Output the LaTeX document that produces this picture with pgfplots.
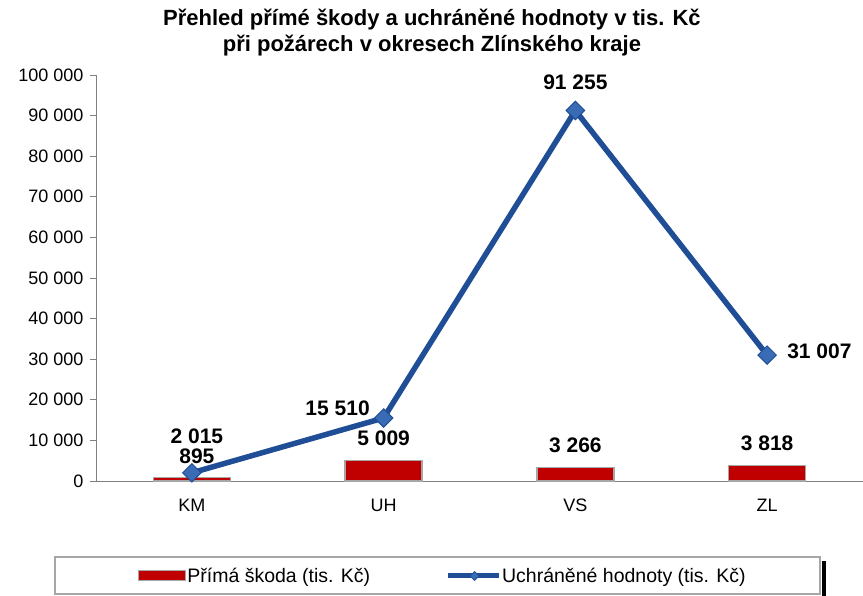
\documentclass[border=0pt]{standalone}
\usepackage{fontspec}
\setmainfont{Liberation Sans}
\usepackage{pgfplots}
\pgfplotsset{compat=1.18}
\definecolor{barred}{HTML}{C00000}
\definecolor{baredge}{HTML}{A6A6A6}
\definecolor{lineblue}{HTML}{1F4E96}
\definecolor{markblue}{HTML}{3A6BB5}
\definecolor{axgray}{HTML}{808080}
\begin{document}
\begin{tikzpicture}
\useasboundingbox (-96pt,-115pt) rectangle (767pt,481pt);
\begin{axis}[
  scale only axis,
  width=767pt, height=406pt,
  xmin=0, xmax=4, ymin=0, ymax=100000,
  clip=false,
  scaled y ticks=false,
  axis x line=bottom, axis y line=left,
  axis line style={axgray, line width=0.8pt, -},
  xtick={0.5,1.5,2.5,3.5},
  xticklabels={KM,UH,VS,ZL},
  major x tick style={draw=none},
  extra x ticks={1,2,3},
  extra x tick labels={},
  extra x tick style={major tick length=6pt, tick style={axgray, line width=0.8pt}, tick align=outside},
  ytick={0,10000,20000,30000,40000,50000,60000,70000,80000,90000,100000},
  yticklabels={0,10 000,20 000,30 000,40 000,50 000,60 000,70 000,80 000,90 000,100 000},
  tick align=outside,
  major tick length=6pt,
  tick style={axgray, line width=0.8pt},
  ticklabel style={font=\fontsize{18}{21}\selectfont, text=black},
  xticklabel style={yshift=-8pt, text height=13pt, text depth=0pt},
  yticklabel style={xshift=-3pt},
  /pgf/number format/assume math mode=true,
  legend columns=2,
  legend style={at={(rel axis cs:0.4518,-0.234)}, anchor=center, draw=none, fill=none,
    font=\fontsize{19.5}{22}\selectfont, inner xsep=0pt,
    nodes={inner xsep=1pt},
    /tikz/every even column/.append style={column sep=74pt}},
]
\addplot[ybar, bar width=77pt, fill=barred, draw=baredge, line width=1.5pt,
  legend image code/.code={\draw[fill=barred, draw=baredge, line width=1pt] (0pt,-5pt) rectangle (47pt,5pt);}]
  coordinates {(0.5,895) (1.5,5009) (2.5,3266) (3.5,3818)};
\addlegendentry{Přímá škoda (tis. Kč)}
\addplot[lineblue, line width=5.5pt, mark=square*, mark size=6.5pt,
  mark options={rotate=45, fill=markblue, draw=lineblue, line width=1pt},
  legend image code/.code={\draw[lineblue, line width=5pt] (0pt,0pt) -- (51pt,0pt);
    \draw[fill=markblue, draw=lineblue, line width=0.8pt] (27pt,-4.5pt) -- (31.5pt,0pt) -- (27pt,4.5pt) -- (22.5pt,0pt) -- cycle;}]
  coordinates {(0.5,2015) (1.5,15510) (2.5,91255) (3.5,31007)};
\addlegendentry{Uchráněné hodnoty (tis. Kč)}
\begin{scope}[every node/.style={font=\fontsize{21}{24}\selectfont\bfseries, inner sep=0pt}]
\node at (axis cs:2.5,98276) {91 255};
\node[anchor=west] at (axis cs:3.604,32020) {31 007};
\node at (axis cs:1.26,17980) {15 510};
\node at (axis cs:0.526,11084) {2 015};
\node at (axis cs:0.526,6158) {895};
\node at (axis cs:1.5,10591) {5 009};
\node at (axis cs:2.5,8867) {3 266};
\node at (axis cs:3.5,9360) {3 818};
\end{scope}
\node[align=center, font=\fontsize{22}{26}\selectfont\bfseries, anchor=south, inner sep=0pt]
  at (rel axis cs:0.438,1.045) {Přehled přímé škody a uchráněné hodnoty v tis. Kč\\při požárech v okresech Zlínského kraje};
\end{axis}
\draw[gray!70, line width=1.5pt] (-41pt,-76pt) rectangle (724pt,-113pt);
\fill[black] (726pt,-80pt) rectangle (730pt,-115pt);
\end{tikzpicture}
\end{document}
